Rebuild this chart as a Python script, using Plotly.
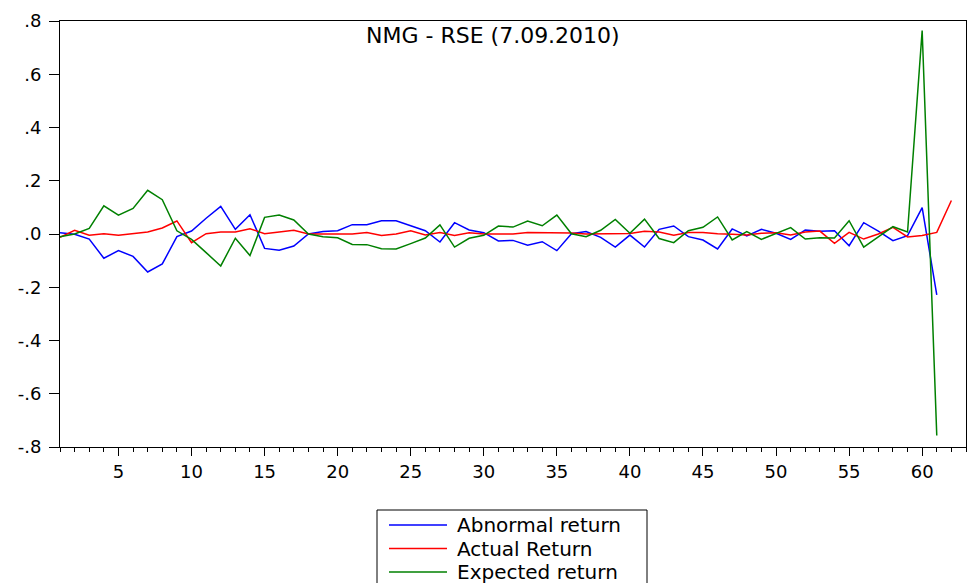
import plotly.graph_objects as go

obs_red = list(range(1, 63))
obs_other = list(range(1, 62))

abnormal_return = [
    0.005, -0.001, -0.019, -0.091, -0.0625, -0.084, -0.1425, -0.1125, -0.01, 0.011,
    0.059, 0.104, 0.0175, 0.0725, -0.054, -0.061, -0.045, 0.0, 0.009, 0.0125,
    0.035, 0.035, 0.05, 0.05, 0.031, 0.0125, -0.03, 0.0425, 0.015, 0.005,
    -0.026, -0.024, -0.0425, -0.029, -0.0625, 0.001, 0.009, -0.0125, -0.049, -0.004,
    -0.049, 0.0175, 0.03, -0.01, -0.0225, -0.056, 0.019, -0.0075, 0.0175, 0.0025,
    -0.02, 0.015, 0.01, 0.0125, -0.044, 0.0425, 0.011, -0.025, -0.006, 0.099,
    -0.229,
]

actual_return = [
    -0.0125, 0.014, -0.005, 0.001, -0.005, 0.0, 0.0075, 0.0225, 0.049, -0.0325,
    0.001, 0.0075, 0.0075, 0.02, 0.001, 0.0075, 0.014, 0.0, 0.0, 0.0,
    0.0, 0.006, -0.006, 0.0, 0.0125, -0.004, 0.006, -0.006, 0.005, 0.0,
    0.0, 0.0, 0.006, 0.006, 0.006, 0.004, 0.0, 0.0, 0.002, 0.002,
    0.01, 0.0075, -0.005, 0.006, 0.006, 0.001, -0.001, -0.004, 0.0025, 0.005,
    -0.004, 0.0075, 0.011, -0.035, 0.006, -0.019, 0.0, 0.025, -0.011, -0.006,
    0.006, 0.126,
]

expected_return = [
    -0.01, 0.0, 0.021, 0.106, 0.071, 0.096, 0.164, 0.129, 0.012, -0.02,
    -0.07, -0.12, -0.016, -0.081, 0.0625, 0.071, 0.0525, 0.0, -0.01, -0.014,
    -0.039, -0.04, -0.055, -0.056, -0.036, -0.015, 0.034, -0.049, -0.016, -0.005,
    0.03, 0.026, 0.049, 0.031, 0.071, 0.001, -0.01, 0.014, 0.055, 0.0025,
    0.056, -0.017, -0.0325, 0.0125, 0.025, 0.064, -0.0225, 0.009, -0.02, 0.0025,
    0.024, -0.019, -0.014, -0.015, 0.05, -0.049, -0.01, 0.0275, 0.0075, 0.764,
    -0.757,
]

series_names = ["Abnormal return", "Actual Return", "Expected return"]
series_colors = ["#0000FF", "#FF0000", "#008000"]

y_tickvals = [-0.8, -0.6, -0.4, -0.2, 0.0, 0.2, 0.4, 0.6, 0.8]
y_ticktext = ["-.8", "-.6", "-.4", "-.2", ".0", ".2", ".4", ".6", ".8"]
x_tickvals = [5, 10, 15, 20, 25, 30, 35, 40, 45, 50, 55, 60]

title_text = "NMG - RSE (7.09.2010)"
FONT = "DejaVu Sans"

W, H = 967, 583
ML, MR, MT, MB = 60, 1, 21, 136
PW, PH = W - ML - MR, H - MT - MB


def px_x(px):
    return (px - ML) / PW


def px_y(py):
    return (H - MB - py) / PH


fig = go.Figure()
xs = [obs_other, obs_red, obs_other]
ys = [abnormal_return, actual_return, expected_return]
for name, color, xv, yv in zip(series_names, series_colors, xs, ys):
    fig.add_trace(go.Scatter(x=xv, y=yv, mode="lines", name=name,
                             line=dict(color=color, width=1.5)))

# Legend drawn as a box, sample lines and text (box runs off the bottom edge like the reference)
shapes = [dict(type="rect", xref="paper", yref="paper",
               x0=px_x(377), x1=px_x(647), y0=px_y(510), y1=px_y(610),
               line=dict(color="black", width=1), fillcolor="white", layer="above")]
annotations = [dict(
    text=title_text, xref="paper", yref="paper", x=px_x(493), y=px_y(36),
    xanchor="center", yanchor="middle", showarrow=False,
    font=dict(family=FONT, size=22, color="black"),
)]
row_y = [525, 548.5, 572]
for name, color, ry in zip(series_names, series_colors, row_y):
    shapes.append(dict(type="line", xref="paper", yref="paper",
                       x0=px_x(389), x1=px_x(447), y0=px_y(ry), y1=px_y(ry),
                       line=dict(color=color, width=1.5), layer="above"))
    annotations.append(dict(text=name, xref="paper", yref="paper",
                            x=px_x(455), y=px_y(ry), xanchor="left", yanchor="middle",
                            showarrow=False,
                            font=dict(family=FONT, size=20, color="black")))

fig.update_layout(
    width=W, height=H,
    margin=dict(l=ML, r=MR, t=MT, b=MB, autoexpand=False),
    paper_bgcolor="white", plot_bgcolor="white",
    font=dict(family=FONT, color="black", size=16),
    showlegend=False,
    shapes=shapes,
    annotations=annotations,
)

fig.update_xaxes(
    range=[1, 63], tickmode="array", tickvals=x_tickvals,
    ticks="outside", ticklen=8, tickwidth=1, tickcolor="black",
    minor=dict(dtick=1, tick0=0, ticks="outside", ticklen=4, tickcolor="black", tickwidth=1),
    showline=True, linecolor="black", linewidth=1, mirror=True,
    showgrid=False, zeroline=False,
    tickfont=dict(family=FONT, size=18, color="black"),
)
fig.update_yaxes(
    range=[-0.8, 0.8], tickmode="array", tickvals=y_tickvals, ticktext=y_ticktext,
    ticks="outside", ticklen=10, tickwidth=1, tickcolor="black",
    showline=True, linecolor="black", linewidth=1, mirror=True,
    showgrid=False, zeroline=False,
    tickfont=dict(family=FONT, size=18, color="black"),
    ticklabelstandoff=4,
)

fig.write_html("out.html")
